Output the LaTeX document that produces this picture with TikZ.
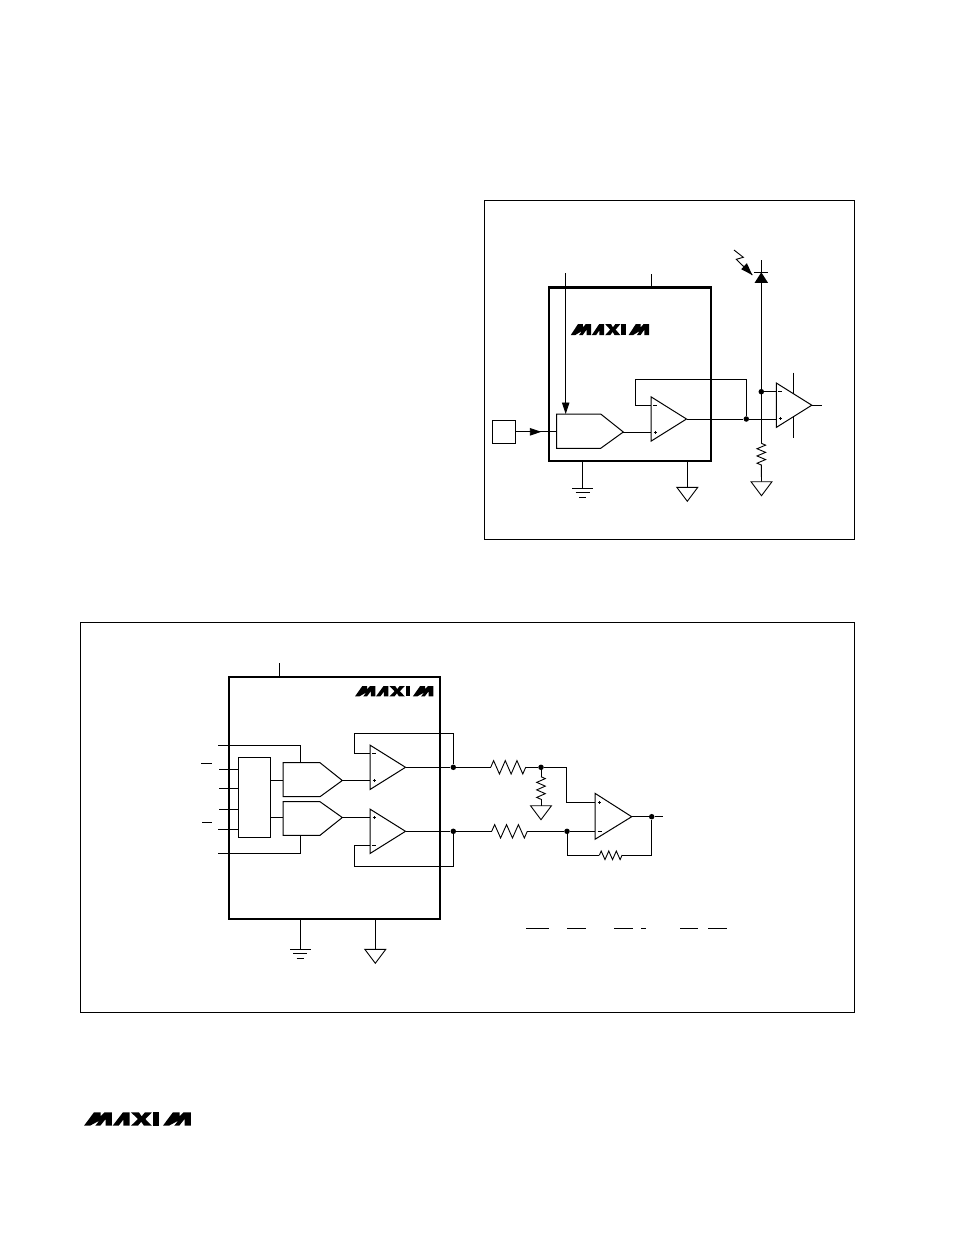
\documentclass[tikz,border=0pt]{standalone}
\usetikzlibrary{arrows.meta,decorations.pathmorphing}
\tikzset{
  x=1pt,y=-1pt,
  frame/.style={draw,line width=1pt},
  icbox/.style={draw,line width=2.3pt},
  wire/.style={draw,line width=0.9pt,line join=miter},
  blk/.style={draw,line width=1pt},
  jdot/.style={circle,fill=black,inner sep=0pt,minimum size=5.5pt},
  sig/.style={wire,-{Triangle[length=11.5pt,width=7.5pt]}},
  zz/.style={wire,decorate,decoration={zigzag,segment length=#1/3,amplitude=4.3pt}},
  zzbig/.style={wire,decorate,decoration={zigzag,segment length=#1/3,amplitude=6.7pt}},
  sgn/.style={line width=0.8pt},
  gndtri/.pic={\draw[wire] (-10.5,0) -- (10.5,0) -- (0,14) -- cycle;},
  gndbars/.pic={\draw[wire] (-10.3,0) -- (10.3,0) (-7,4.6) -- (7,4.6) (-3.6,9.2) -- (3.6,9.2);},
  opampshape/.pic={\draw[blk,line join=miter] (0,-22.2) -- (35.5,0) -- (0,22.2) -- cycle;},
  plussign/.pic={\draw[sgn] (-1.5,0) -- (1.5,0) (0,-1.5) -- (0,1.5);},
  minussign/.pic={\draw[sgn] (-2,0) -- (2,0);}
}
\newcommand{\logoM}[1]{\fill[shift={(#1,0)}] (0,40) -- (30,0) -- (50,0) -- (50,12) -- (62,0) -- (84,0) -- (84,40) -- (65,40) -- (65,20) -- (49,40) -- (34,40) -- (46,25) -- (18,40) -- cycle;}
\newcommand{\maximlogo}[4]{%
  \begin{scope}[shift={(#1,#2)},xscale=#3,yscale=#4]
    \logoM{0}
    \fill (86,40) -- (117,0) -- (137,0) -- (137,40) -- (118,40) -- (118,22) -- (104,40) -- cycle;
    \fill (141,0) -- (165,0) -- (173,12) -- (183,0) -- (204,0) -- (184,20) -- (204,40) -- (180,40) -- (172,28) -- (162,40) -- (141,40) -- (162,20) -- cycle;
    \fill (208,0) -- (225,0) -- (225,40) -- (208,40) -- cycle;
    \logoM{237}
  \end{scope}}
\begin{document}
\begin{tikzpicture}
\useasboundingbox (0,0) rectangle (954,1235);
% ---------- frames
\draw[frame] (484.5,200.5) rectangle (854,539.5);
\draw[frame] (80.5,622.5) rectangle (854,1012.5);
\maximlogo{84}{1112.3}{0.333}{0.335}
% ---------- upper diagram
\coordinate (ic1NW) at (549,287.5); \coordinate (ic1SE) at (711,460.7);
\draw[icbox] (ic1NW) rectangle (ic1SE);
\maximlogo{570.7}{324}{0.244}{0.28}
\coordinate (pinTop1) at (651.3,274); \coordinate (pinTop1b) at (651.3,287.5);
\draw[wire] (pinTop1) -- (pinTop1b);
\coordinate (refA) at (565.7,273); \coordinate (refB) at (565.7,414);
\draw[sig] (refA) -- (refB);
\node[draw,line width=0.9pt,minimum width=23.4pt,minimum height=23pt,inner sep=0pt] (srcbox) at (504,431.8) {};
\coordinate (dacIn) at (556.7,431.8);
\draw[wire] (srcbox.east) -- (dacIn);
\coordinate (arrEnd) at (541.3,431.8);
\draw[sig] (srcbox.east) -- (arrEnd);
\coordinate (dacTip) at (623.3,432);
\draw[blk,line join=miter] (556.7,414) -- (600.7,414) -- (dacTip) -- (600.7,448.3) -- (556.7,448.3) -- cycle;
% op amp 1
\pic at (651,419) {opampshape};
\coordinate (a1p) at (651,432); \coordinate (a1n) at (651,405.3); \coordinate (a1o) at (686.5,419);
\pic at (655,432.3) {plussign}; \pic at (655.3,405.3) {minussign};
\draw[wire] (dacTip) -- (a1p);
\node[jdot] (j1) at (746.3,419) {};
\coordinate (a2p) at (776.3,419);
\draw[wire] (a1o) -- (j1) -- (a2p);
\coordinate (fbA) at (635.3,379.3); \coordinate (fbB) at (746.3,379.3);
\draw[wire] (a1n) -- (a1n -| fbA) -- (fbA) -- (fbB) -- (j1);
% op amp 2
\pic at (776.3,405.2) {opampshape};
\coordinate (a2n) at (776.3,391.7); \coordinate (a2o) at (811.8,405.2); \coordinate (a2out) at (821.7,405.2);
\pic at (780,418.3) {plussign}; \pic at (780.3,391.7) {minussign};
\draw[wire] (a2o) -- (a2out);
\coordinate (a2supT) at (793.3,372.7); \coordinate (a2supTb) at (793.3,393.9);
\coordinate (a2supB) at (793.3,437.7); \coordinate (a2supBb) at (793.3,416.5);
\draw[wire] (a2supT) -- (a2supTb);
\draw[wire] (a2supB) -- (a2supBb);
% photodiode
\coordinate (pdTop) at (761.3,260); \coordinate (rTop) at (761.3,443.3); \coordinate (rBot) at (761.3,465); \coordinate (g1) at (761.5,481.7);
\node[jdot] (j2) at (761.3,391.7) {};
\draw[wire] (pdTop) -- (rTop);
\draw[wire] (j2) -- (a2n);
\draw[zz=21.7] (rTop) -- (rBot);
\draw[wire] (rBot) -- (g1);
\pic at (g1) {gndtri};
\fill (754.6,282.8) -- (768,282.8) -- (761.3,272.3) -- cycle;
\draw[wire] (754.4,272.3) -- (768.2,272.3);
\coordinate (lz1) at (734,250); \coordinate (lz2) at (743.3,257.3); \coordinate (lz3) at (736.3,259.3); \coordinate (lz4) at (752.3,275);
\draw[wire] (lz1) -- (lz2) -- (lz3) -- (lz4);
\fill (752.3,275) -- (741.2,269.2) -- (746.9,263.2) -- cycle;
% ground pins
\coordinate (gp1a) at (582.7,460.7); \coordinate (gp1b) at (582.7,488.3);
\draw[wire] (gp1a) -- (gp1b); \pic at (gp1b) {gndbars};
\coordinate (gp2a) at (687.3,460.7); \coordinate (gp2b) at (687.3,487.3);
\draw[wire] (gp2a) -- (gp2b); \pic at (gp2b) {gndtri};
% ---------- lower diagram
\coordinate (ic2NW) at (229,677); \coordinate (ic2SE) at (440,919);
\draw[icbox] (ic2NW) rectangle (ic2SE);
\maximlogo{355}{686}{0.244}{0.26}
\coordinate (pinTop2) at (279.3,663.3); \coordinate (pinTop2b) at (279.3,677);
\draw[wire] (pinTop2) -- (pinTop2b);
\node[draw,line width=0.9pt,minimum width=32pt,minimum height=80pt,inner sep=0pt] (logic) at (254.7,797.3) {};
\coordinate (l1) at (219,769.3); \coordinate (l2) at (219,788.3); \coordinate (l3) at (219,809.7); \coordinate (l4) at (218,829.3);
\draw[wire] (l1) -- (l1 -| logic.west);
\draw[wire] (l2) -- (l2 -| logic.west);
\draw[wire] (l3) -- (l3 -| logic.west);
\draw[wire] (l4) -- (l4 -| logic.west);
\draw[wire] (201,763.3) -- (212,763.3);
\draw[wire] (202.3,822.3) -- (212,822.3);
% DACs
\coordinate (dA) at (283,780.5); \coordinate (dAt) at (342.3,780.5);
\coordinate (dB) at (283,817.5); \coordinate (dBt) at (342.3,817.5);
\draw[blk,line join=miter] (283,762.7) -- (320,762.7) -- (dAt) -- (320,796.7) -- (283,796.7) -- cycle;
\draw[blk,line join=miter] (283,801.7) -- (320,801.7) -- (dBt) -- (320,835.3) -- (283,835.3) -- cycle;
\draw[wire] (dA -| logic.east) -- (dA);
\draw[wire] (dB -| logic.east) -- (dB);
\coordinate (rfA0) at (218.3,745.7); \coordinate (rfA1) at (300.7,745.7); \coordinate (rfA2) at (300.7,762.7);
\coordinate (rfB0) at (218.3,853.7); \coordinate (rfB1) at (300.7,853.7); \coordinate (rfB2) at (300.7,835.3);
\draw[wire] (rfA0) -- (rfA1) -- (rfA2);
\draw[wire] (rfB0) -- (rfB1) -- (rfB2);
% output amps
\pic at (370,767.3) {opampshape};
\pic at (370,831.3) {opampshape};
\coordinate (oAp) at (370,780.5); \coordinate (oAn) at (370,753.3); \coordinate (oAo) at (405.5,767.3);
\coordinate (oBp) at (370,817.5); \coordinate (oBn) at (370,845.3); \coordinate (oBo) at (405.5,831.3);
\pic at (374,780.7) {plussign}; \pic at (374.3,753.3) {minussign};
\pic at (374,817.7) {plussign}; \pic at (374.3,845.3) {minussign};
\draw[wire] (dAt) -- (oAp);
\draw[wire] (dBt) -- (oBp);
\node[jdot] (jA) at (453.3,767.3) {};
\node[jdot] (jB) at (453.3,831.3) {};
\coordinate (fA1) at (354.3,753.3); \coordinate (fA2) at (354.3,733.7); \coordinate (fA3) at (453.3,733.7);
\coordinate (fB1) at (354.3,845.3); \coordinate (fB2) at (354.3,866.3); \coordinate (fB3) at (453.3,866.3);
\draw[wire] (oAn) -- (fA1) -- (fA2) -- (fA3) -- (jA);
\draw[wire] (oBn) -- (fB1) -- (fB2) -- (fB3) -- (jB);
% resistors + diff amp
\coordinate (rAa) at (490.7,767.3); \coordinate (rAb) at (525.7,767.3);
\coordinate (rBa) at (491.7,831.3); \coordinate (rBb) at (527.3,831.3);
\draw[wire] (oAo) -- (jA) -- (rAa);
\draw[zzbig=35] (rAa) -- (rAb);
\draw[wire] (oBo) -- (jB) -- (rBa);
\draw[zzbig=35.6] (rBa) -- (rBb);
\node[jdot] (jC) at (541,767.3) {};
\node[jdot] (jD) at (567,831.3) {};
\coordinate (cP1) at (566.7,767.3); \coordinate (cP2) at (566.7,802.3); \coordinate (cP) at (595,802.3);
\coordinate (cN) at (595,831.3); \coordinate (cO) at (631.7,816.7); \coordinate (cOut) at (662.7,816.7);
\draw[wire] (rAb) -- (jC) -- (cP1) -- (cP2) -- (cP);
\draw[wire] (rBb) -- (jD) -- (cN);
\draw[blk,line join=miter] (595,793.3) -- (cO) -- (595,839.3) -- cycle;
\pic at (599.3,802.3) {plussign}; \pic at (599.5,831.3) {minussign};
\node[jdot] (jE) at (651.7,816.7) {};
\draw[wire] (cO) -- (jE) -- (cOut);
\coordinate (rCa) at (541,776.7); \coordinate (rCb) at (541,799.3); \coordinate (gC) at (541,805.7);
\draw[wire] (jC) -- (rCa);
\draw[zz=22.6] (rCa) -- (rCb);
\draw[wire] (rCb) -- (gC);
\pic at (gC) {gndtri};
\coordinate (fC1) at (567,855.3); \coordinate (rDa) at (599.3,855.3); \coordinate (rDb) at (622,855.3); \coordinate (fC2) at (651.7,855.3);
\draw[wire] (jD) -- (fC1) -- (rDa);
\draw[zz=22.7] (rDa) -- (rDb);
\draw[wire] (rDb) -- (fC2) -- (jE);
% ground pins
\coordinate (gp3a) at (300.3,919); \coordinate (gp3b) at (300.3,949.3);
\draw[wire] (gp3a) -- (gp3b); \pic at (gp3b) {gndbars};
\coordinate (gp4a) at (375.3,919); \coordinate (gp4b) at (375.3,949.3);
\draw[wire] (gp4a) -- (gp4b); \pic at (gp4b) {gndtri};
% fraction bars
\foreach \a/\b in {526/549,567/586,614/633,641/646,680/698,708/727}
  \draw[wire] (\a,928.3) -- (\b,928.3);
\end{tikzpicture}
\end{document}
